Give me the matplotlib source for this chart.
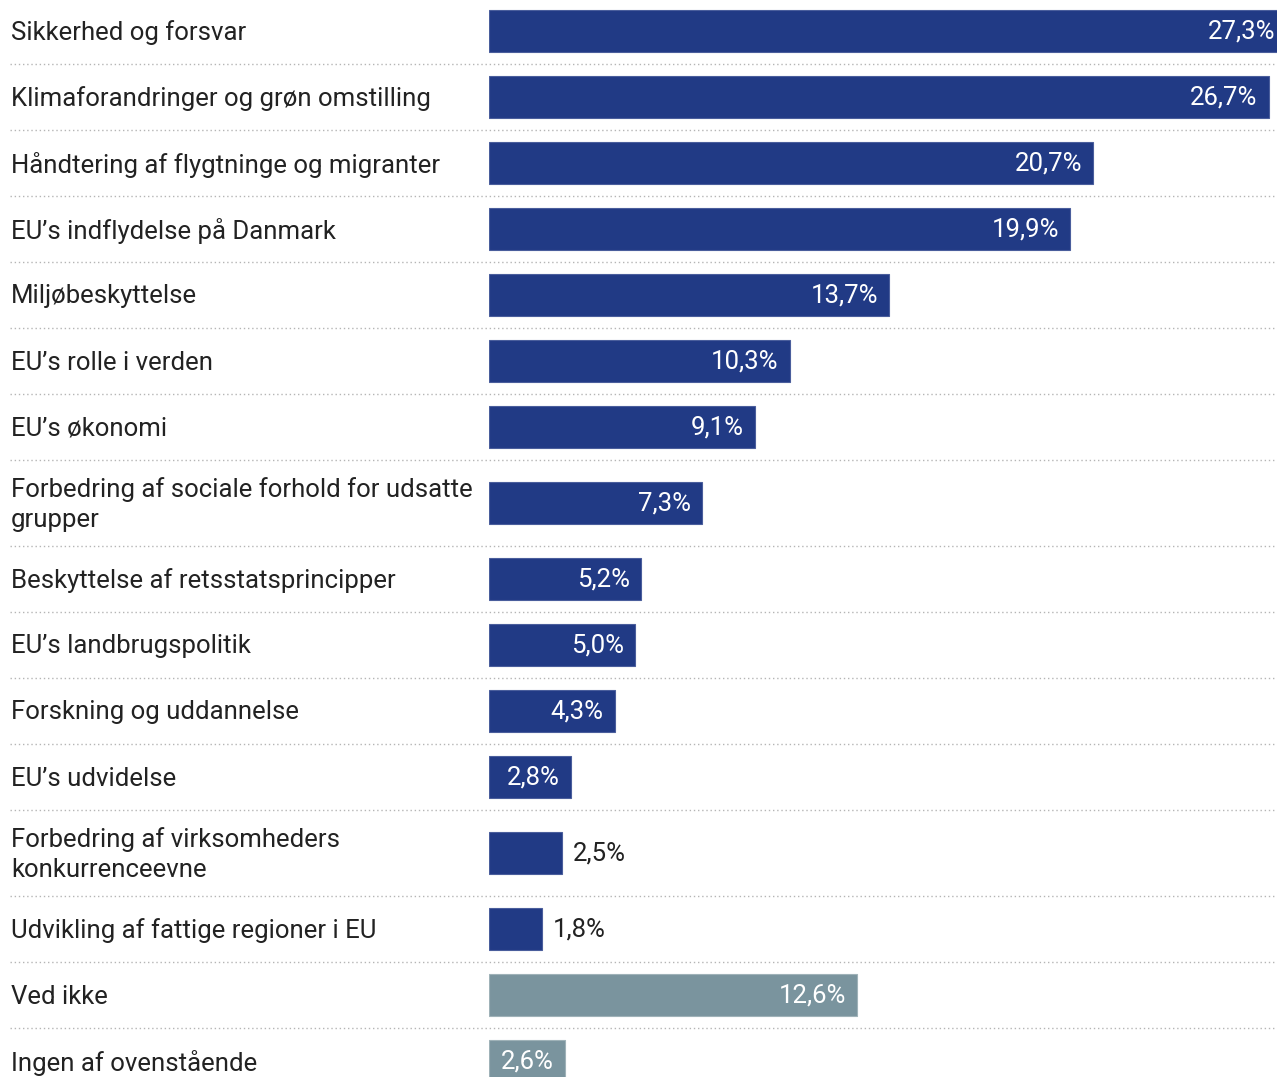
import numpy as np
import matplotlib.pyplot as plt
from matplotlib.lines import Line2D
from matplotlib.transforms import blended_transform_factory

plt.rcParams['font.family'] = ['Roboto', 'DejaVu Sans']

categories = [
    "Sikkerhed og forsvar",
    "Klimaforandringer og grøn omstilling",
    "Håndtering af flygtninge og migranter",
    "EU’s indflydelse på Danmark",
    "Miljøbeskyttelse",
    "EU’s rolle i verden",
    "EU’s økonomi",
    "Forbedring af sociale forhold for udsatte\ngrupper",
    "Beskyttelse af retsstatsprincipper",
    "EU’s landbrugspolitik",
    "Forskning og uddannelse",
    "EU’s udvidelse",
    "Forbedring af virksomheders\nkonkurrenceevne",
    "Udvikling af fattige regioner i EU",
    "Ved ikke",
    "Ingen af ovenstående",
]
values = [27.3, 26.7, 20.7, 19.9, 13.7, 10.3, 9.1, 7.3, 5.2, 5.0, 4.3, 2.8, 2.5, 1.8, 12.6, 2.6]
groups = ["topic"] * 14 + ["other", "other"]

W, H = 1277, 1077
fig = plt.figure(figsize=(W / 100, H / 100), dpi=100)
x0 = 489
px_per_pct = 29.2
ax = fig.add_axes([x0 / W, 0, 1 - x0 / W, 1])
ax.set_xlim(0, (W - x0) / px_per_pct)
ax.set_ylim(H, 0)
ax.axis('off')

# row layout in pixels (two-line labels get taller rows)
heights = [86 if "\n" in c else 66 for c in categories]
tops = -2 + np.concatenate([[0], np.cumsum(heights)[:-1]])
centers = tops + np.array(heights) / 2
bottoms = tops + np.array(heights)

colors = {"topic": "#213a85", "other": "#7a949e"}
edge = {"topic": "#4a5e9c", "other": "#9fb2b8"}
bar_h = 42
ax.barh(centers, values, height=bar_h,
        color=[colors[g] for g in groups],
        edgecolor=[edge[g] for g in groups], linewidth=0.8)

fs = 18.5
pad = 11 / px_per_pct
for c, v, yc in zip(categories, values, centers):
    fig.text(11 / W, 1 - (yc + 1.5) / H, c, ha='left', va='center', fontsize=fs,
             color='#222222', linespacing=1.3)
    lab = f"{v:.1f}%".replace(".", ",")
    if v >= 2.6:
        ax.text(v - pad, yc + 1, lab, ha='right', va='center', fontsize=fs,
                color='white', clip_on=False)
    else:
        ax.text(v + pad, yc + 1, lab, ha='left', va='center', fontsize=fs,
                color='#222222')

tr = blended_transform_factory(fig.transFigure, ax.transData)
for yb in bottoms[:-1]:
    fig.add_artist(Line2D([10 / W, 1], [yb, yb], transform=tr,
                          color='#b5b5b5', linewidth=1.0,
                          linestyle=(0, (1, 2))))

fig.savefig("out.png", dpi=100)
